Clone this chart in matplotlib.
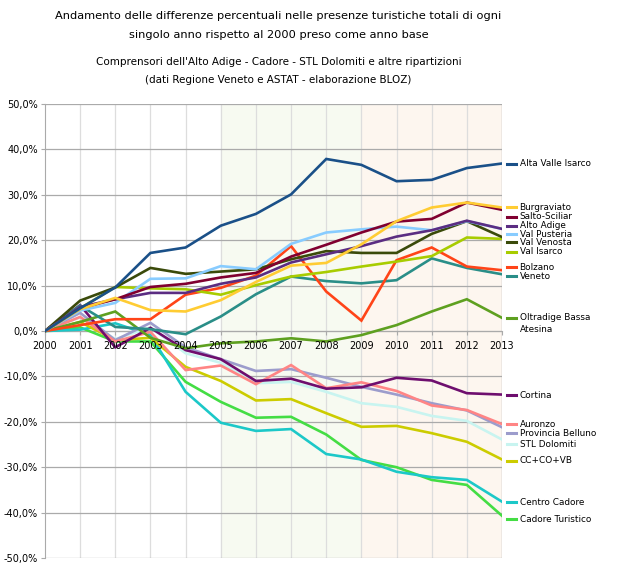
import matplotlib.pyplot as plt
import numpy as np

# anni e variazioni percentuali rispetto al 2000
years = list(range(2000, 2014))

alta_valle_isarco = [0, 5.0, 9.6, 17.2, 18.4, 23.2, 25.8, 30.1, 37.9, 36.6, 33.0, 33.3, 35.9, 36.9]
burgraviato = [0, 4.8, 7.3, 4.6, 4.3, 6.8, 10.8, 14.4, 15.0, 19.1, 24.2, 27.2, 28.3, 27.2]
salto_sciliar = [0, 5.0, 7.0, 9.7, 10.4, 11.8, 12.8, 16.4, 19.0, 21.7, 24.1, 24.7, 28.3, 26.7]
alto_adige = [0, 5.3, 7.0, 8.4, 8.4, 10.4, 11.8, 15.1, 16.9, 18.7, 20.8, 22.2, 24.3, 22.5]
val_pusteria = [0, 4.5, 6.2, 11.5, 11.6, 14.3, 13.6, 19.2, 21.7, 22.4, 23.0, 22.2, 24.2, 22.5]
val_venosta = [0, 6.7, 9.6, 13.9, 12.6, 13.1, 13.6, 15.8, 17.6, 17.2, 17.2, 21.4, 24.2, 20.7]
val_isarco = [0, 5.0, 9.7, 9.4, 9.2, 8.0, 10.1, 12.0, 13.0, 14.2, 15.3, 16.5, 20.6, 20.3]
bolzano = [0, 1.3, 2.6, 2.6, 8.0, 9.5, 12.2, 18.7, 8.7, 2.3, 15.6, 18.4, 14.2, 13.4]
veneto = [0, 5.6, 0.9, 0.4, -0.7, 3.2, 8.1, 12.0, 11.0, 10.5, 11.2, 16.0, 13.9, 12.5]
oltradige = [0, 2.0, 4.3, -1.5, -3.8, -2.7, -2.3, -1.6, -2.3, -0.9, 1.3, 4.3, 7.0, 2.9]
cortina = [0, 5.7, -3.6, 0.7, -4.2, -6.2, -11.0, -10.5, -12.7, -12.4, -10.3, -10.9, -13.7, -14.0]
auronzo = [0, 3.1, -2.3, -0.2, -8.6, -7.6, -11.7, -7.5, -12.6, -11.3, -13.2, -16.4, -17.4, -20.5]
provincia_belluno = [0, 4.0, -2.0, 1.8, -3.6, -6.2, -8.8, -8.4, -10.3, -12.3, -14.0, -15.9, -17.5, -21.2]
stl_dolomiti = [0, 3.0, -1.8, 0.8, -4.9, -7.0, -11.5, -11.2, -13.4, -15.9, -16.7, -18.7, -19.8, -23.9]
cc_co_vb = [0, 2.0, -2.0, -1.5, -7.9, -11.0, -15.3, -15.0, -18.1, -21.1, -20.9, -22.5, -24.4, -28.3]
centro_cadore = [0, 0.3, 1.7, -0.9, -13.4, -20.2, -22.0, -21.6, -27.1, -28.3, -31.0, -32.2, -32.8, -37.6]
cadore_turistico = [0, 0.8, -2.3, -2.3, -11.2, -15.6, -19.1, -18.9, -22.8, -28.4, -30.0, -32.8, -33.9, -40.7]

# (nome, dati, colore, posizione etichetta in %)
series = [
    ("Alta Valle Isarco", alta_valle_isarco, "#1a5088", 36.9),
    ("Burgraviato", burgraviato, "#ffcc33", 27.3),
    ("Salto-Sciliar", salto_sciliar, "#800030", 25.2),
    ("Alto Adige", alto_adige, "#5b2d82", 23.2),
    ("Val Pusteria", val_pusteria, "#88ccff", 21.3),
    ("Val Venosta", val_venosta, "#3a4a0a", 19.5),
    ("Val Isarco", val_isarco, "#a8cc00", 17.5),
    ("Bolzano", bolzano, "#ff4418", 14.1),
    ("Veneto", veneto, "#2a8e88", 12.1),
    ("Oltradige Bassa\nAtesina", oltradige, "#5ea020", 2.9),
    ("Cortina", cortina, "#6e0e6e", -14.1),
    ("Auronzo", auronzo, "#ff8585", -20.5),
    ("Provincia Belluno", provincia_belluno, "#9c9ccc", -22.5),
    ("STL Dolomiti", stl_dolomiti, "#c8f4f0", -24.9),
    ("CC+CO+VB", cc_co_vb, "#cccc00", -28.6),
    ("Centro Cadore", centro_cadore, "#1cc8c8", -37.7),
    ("Cadore Turistico", cadore_turistico, "#44dd44", -41.5),
]

title_lines = [
    "Andamento delle differenze percentuali nelle presenze turistiche totali di ogni",
    "singolo anno rispetto al 2000 preso come anno base",
]
subtitle_lines = [
    "Comprensori dell'Alto Adige - Cadore - STL Dolomiti e altre ripartizioni",
    "(dati Regione Veneto e ASTAT - elaborazione BLOZ)",
]

fig = plt.figure(figsize=(6.23, 5.78), dpi=100)
ax = fig.add_axes([0.0722, 0.0346, 0.7336, 0.7854])

ax.axvspan(2005, 2009, color="#f7faf1", zorder=0)
ax.axvspan(2009, 2013, color="#fdf6ef", zorder=0)

# griglia a mano
for yr in years[1:]:
    ax.axvline(yr, color="#dddddd", lw=0.9, zorder=1)
ax.axvline(2013, color="#aaaaaa", lw=0.9, zorder=1)
for v in range(-50, 51, 10):
    ax.axhline(v, color="#aaaaaa", lw=0.9, zorder=1)

for name, vals, col, ly in series[::-1]:
    ax.plot(years, vals, color=col, lw=1.9, zorder=3, solid_joinstyle="miter")

ax.set_xlim(2000, 2013)
ax.set_ylim(-50, 50)
ax.set_yticks(np.arange(-50, 51, 10))
ax.set_yticklabels(["%d,0%%" % v for v in range(-50, 51, 10)], fontsize=7)
ax.set_xticks(years)
ax.set_xticklabels([])

# anni sotto la linea dello zero, sopra le serie
for yr in years:
    ax.text(yr, -3.3, str(yr), fontsize=7, ha="center", va="center", zorder=5)

for s in ["top", "right"]:
    ax.spines[s].set_visible(False)
ax.spines["left"].set_color("#aaaaaa")
ax.spines["bottom"].set_color("#aaaaaa")
ax.spines["bottom"].set_position(("data", 0))
ax.spines["bottom"].set_zorder(2)
ax.tick_params(axis="y", length=3, color="#aaaaaa", pad=2)
ax.tick_params(axis="x", length=3, color="#aaaaaa")

# etichette a destra
for name, vals, col, ly in series:
    ax.plot([2013.15, 2013.4], [ly, ly], color=col, lw=2.2, clip_on=False)
    va = "top" if "\n" in name else "center"
    y = ly + 1.1 if "\n" in name else ly
    ax.text(2013.5, y, name, fontsize=6.4, va=va, ha="left", linespacing=1.4)

for txt, yp in zip(title_lines, [16, 34.5]):
    fig.text(0.447, 1 - yp / 578, txt, ha="center", va="center", fontsize=8.2)
for txt, yp in zip(subtitle_lines, [62, 80]):
    fig.text(0.447, 1 - yp / 578, txt, ha="center", va="center", fontsize=7.5)

fig.savefig("out.png", dpi=100)
